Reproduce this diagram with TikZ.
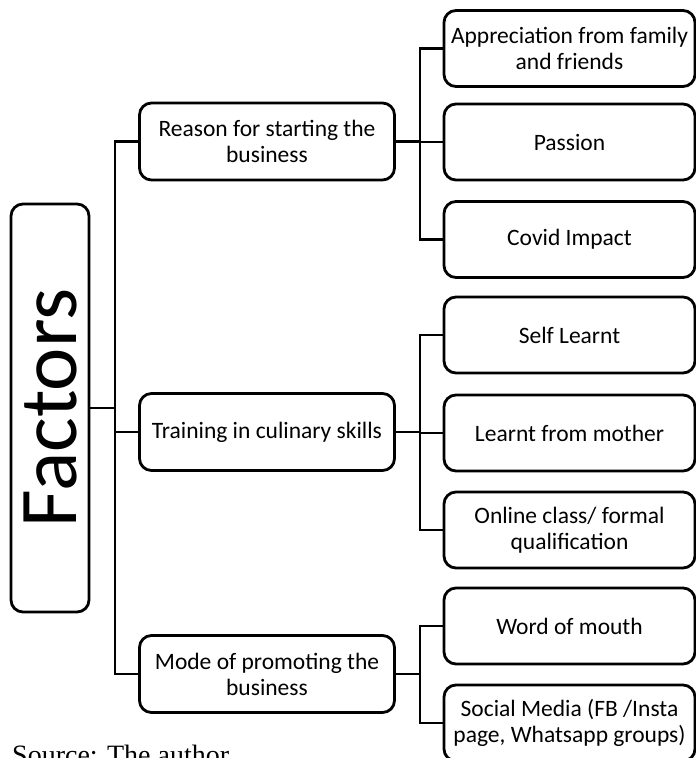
\documentclass[tikz,border=0pt]{standalone}
\usepackage{fontspec}
\setmainfont{Carlito}
\newfontfamily\srcfont{Liberation Serif}
\begin{document}
\begin{tikzpicture}[x=1pt,y=-1pt,
  box/.style={draw, line width=2.8pt, rounded corners=12pt, align=center,
    font=\fontsize{23.5}{26}\selectfont, inner sep=0pt, fill=white},
  midbox/.style={box, minimum width=255pt, minimum height=77pt},
  leafbox/.style={box, minimum width=251pt, minimum height=76pt},
  conn/.style={line width=2.8pt}]
\useasboundingbox (0,0) rectangle (696,758);
% root
\node[box, minimum width=78pt, minimum height=408pt] (f) at (50,408) {};
\node[rotate=90, font=\fontsize{82}{82}\selectfont] (ftxt) at (f) {Factors};
% middle level
\node[midbox] (r) at (267,141.5) {Reason for starting the\\business};
\node[midbox] (t) at (267,432) {Training in culinary skills};
\node[midbox] (m) at (267,674) {Mode of promoting the\\business};
% leaves
\node[leafbox] (a1) at (569.5,48.5) {Appreciation from family\\and friends};
\node[leafbox] (a2) at (569.5,142) {Passion};
\node[leafbox] (a3) at (569.5,239.5) {Covid Impact};
\node[leafbox] (b1) at (569.5,335) {Self Learnt};
\node[leafbox] (b2) at (569.5,433) {Learnt from mother};
\node[leafbox] (b3) at (569.5,530) {Online class/ formal\\qualification};
\node[leafbox] (c1) at (569.5,626) {Word of mouth};
\node[leafbox] (c2) at (569.5,723) {Social Media (FB /Insta\\page, Whatsapp groups)};
% trunks
\coordinate (T) at (115,408);
\coordinate (R) at (420,0);
\draw[conn] (f.east) -- (f.east -| T);
\draw[conn] (r.west) -- (r.west -| T) -- (m.west -| T) -- (m.west);
\draw[conn] (t.west) -- (t.west -| T);
\draw[conn] (r.east) -- (r.east -| R);
\draw[conn] (a1.west) -- (a1.west -| R) -- (a3.west -| R) -- (a3.west);
\draw[conn] (a2.west) -- (a2.west -| R);
\draw[conn] (t.east) -- (t.east -| R);
\draw[conn] (b1.west) -- (b1.west -| R) -- (b3.west -| R) -- (b3.west);
\draw[conn] (b2.west) -- (b2.west -| R);
\draw[conn] (m.east) -- (m.east -| R);
\draw[conn] (c1.west) -- (c1.west -| R) -- (c2.west -| R) -- (c2.west);
% source note (cut off by page edge, as in the reference)
\node[anchor=north west, inner sep=0pt, font=\srcfont\fontsize{28}{28}\selectfont] (src) at (12,745) {Source: The author};
\end{tikzpicture}
\end{document}
